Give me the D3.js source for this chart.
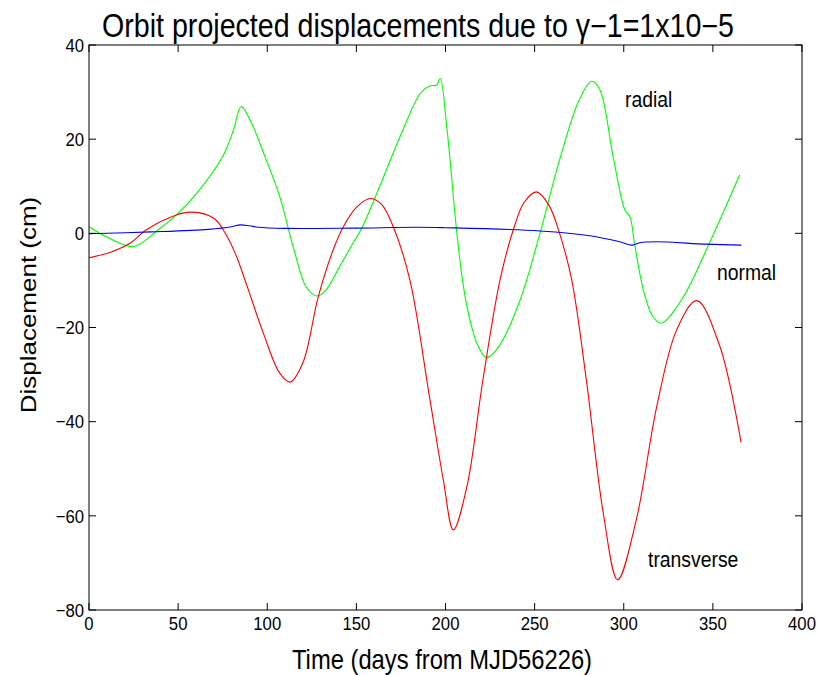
<!DOCTYPE html>
<html><head><meta charset="utf-8">
<script src="https://cdn.jsdelivr.net/npm/d3@7"></script>
<style>body{margin:0;background:#fff}svg{display:block}text{font-family:"Liberation Sans",Arial,sans-serif;fill:#000}</style>
</head><body>
<script>
const radialDays = [0,10,25,38.7,49,60.4,75,81,85.3,90.3,98.7,107,115,122,128,133,140,147,153,163,175,186,191,195,197,200.7,206,209,212,215,218,223,230,241.8,253,264,275,282,286.7,294,300.7,303.5,306,311,316,321,333.4,348,365];
const radialVals = [1.4,-0.8,-2.8,0.7,3.9,8.5,16.3,21.9,26.9,24.1,16.3,7.8,-3.5,-11.5,-13.3,-12,-7.5,-2.8,1.1,9.9,21,29.8,31.3,31.5,32.9,22.6,1.4,-8.5,-15.5,-20.3,-23.7,-26.4,-24,-14.2,0,15.6,28.3,32.3,30.4,16.3,4.9,3.5,-2.1,-12,-17.5,-19.1,-13.5,-2.1,12.4];
const transDays = [0,12,23,32,49,57.6,70,76,82,88.5,97.8,107,112.8,120,128.6,137,142.7,150,157.6,164,170.7,180,191,198.8,204.4,212,221,230.6,238,244,251,258,264,270.8,279,288.5,296.6,307,318.5,329.7,341,354,365.8];
const transVals = [-5.2,-4,-2.1,0.7,3.9,4.5,3.2,0.3,-4.2,-11,-21.2,-29.7,-31.6,-27.5,-13.5,-3.5,1.4,5.5,7.4,6.2,1.4,-9.9,-34.7,-52.4,-63,-53.8,-31.1,-9.9,0.7,6.5,8.8,6,0,-9.9,-31.1,-59.4,-73.6,-60.9,-36.8,-20.5,-14.3,-24.1,-44.4];
const normalDays = [0,35,67,80,84.7,90,95,110,147,184.6,200,253,281,297.8,304.5,309,318.5,346.5,366];
const normalVals = [-0.1,0.3,0.85,1.4,1.8,1.6,1.3,1.05,1.1,1.3,1.2,0.5,-0.5,-1.8,-2.5,-2.0,-1.8,-2.3,-2.5];
const xTicks = [0,50,100,150,200,250,300,350,400];
const yTicks = [-80,-60,-40,-20,0,20,40];
const titleText = "Orbit projected displacements due to γ−1=1x10−5";
const xLabel = "Time (days from MJD56226)";
const yLabel = "Displacement (cm)";
const seriesNames = ["radial","transverse","normal"];

const W=819,H=675, L=89,R=802,T=45,B=610, SX=0.88;
const svg=d3.select("body").append("svg").attr("width",W).attr("height",H);
const x=d3.scaleLinear().domain([0,400]).range([L,R]);
const y=d3.scaleLinear().domain([-80,40]).range([B,T]);

function sq(px,py){
  return svg.append("g").attr("transform",`translate(${px},${py}) scale(${SX},1)`);
}
const line=d3.line().x(d=>x(d[0])).y(d=>y(d[1])).curve(d3.curveCatmullRom.alpha(0.5));
const mk=(a,b)=>a.map((d,i)=>[d,b[i]]);
const series=[[radialDays,radialVals,"#00ff00"],[transDays,transVals,"#ff0000"],[normalDays,normalVals,"#0000ff"]];
series.forEach(s=>svg.append("path").attr("d",line(mk(s[0],s[1]))).attr("fill","none").attr("stroke",s[2]).attr("stroke-width",1.1));

svg.append("rect").attr("x",L).attr("y",T).attr("width",R-L).attr("height",B-T).attr("fill","none").attr("stroke","#000").attr("stroke-width",1);
const tl=7;
xTicks.forEach(v=>{
  svg.append("line").attr("x1",x(v)).attr("x2",x(v)).attr("y1",B).attr("y2",B-tl).attr("stroke","#000");
  svg.append("line").attr("x1",x(v)).attr("x2",x(v)).attr("y1",T).attr("y2",T+tl).attr("stroke","#000");
  sq(x(v),630).append("text").attr("text-anchor","middle").attr("font-size",19).text(v);
});
yTicks.forEach(v=>{
  svg.append("line").attr("y1",y(v)).attr("y2",y(v)).attr("x1",L).attr("x2",L+tl).attr("stroke","#000");
  svg.append("line").attr("y1",y(v)).attr("y2",y(v)).attr("x1",R).attr("x2",R-tl).attr("stroke","#000");
  sq(84,y(v)+6.8).append("text").attr("text-anchor","end").attr("font-size",19).text(v<0?"−"+Math.abs(v):v);
});
sq(418,37).append("text").attr("text-anchor","middle").attr("font-size",32.5).text(titleText);
sq(442,669).append("text").attr("text-anchor","middle").attr("font-size",27).text(xLabel);
svg.append("g").attr("transform",`translate(36,305) scale(${SX},1) rotate(-90)`).append("text").attr("text-anchor","middle").attr("font-size",26).text(yLabel);
sq(625,107).append("text").attr("font-size",22).text(seriesNames[0]);
sq(648,567).append("text").attr("font-size",22).text(seriesNames[1]);
sq(717,280).append("text").attr("font-size",22).text(seriesNames[2]);
</script>
</body></html>
